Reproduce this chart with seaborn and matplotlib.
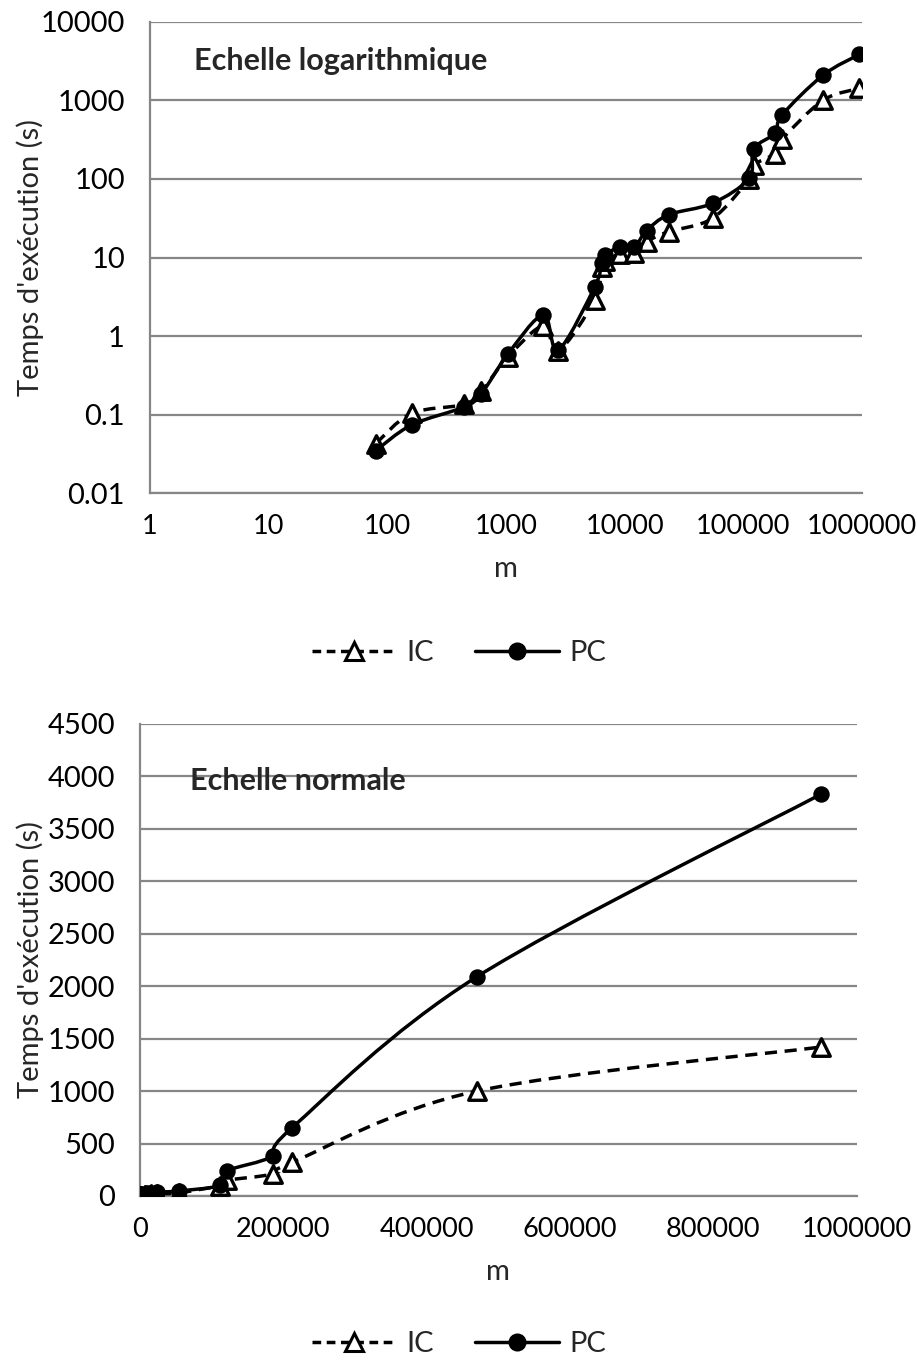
import numpy as np
import pandas as pd
import matplotlib
matplotlib.use("Agg")
import matplotlib.pyplot as plt
from matplotlib.path import Path
from matplotlib.patches import PathPatch
from matplotlib.lines import Line2D
from matplotlib.ticker import FixedLocator, FixedFormatter, NullLocator
import seaborn as sns

# ---------------- data ----------------
m_values = [80, 160, 440, 620, 1045, 2060, 2760, 5600, 6400, 6800, 9100, 12000,
            15300, 23500, 55000, 112000, 122000, 185000, 212000, 470000, 950000]
ic_times = [0.043, 0.104, 0.135, 0.2, 0.55, 1.35, 0.65, 2.9, 7.6, 9.0, 11.0, 11.3,
            15.9, 21.3, 31.5, 100, 150, 210, 320, 1000, 1420]
pc_times = [0.035, 0.074, 0.125, 0.185, 0.6, 1.85, 0.67, 4.25, 8.5, 10.8, 13.5, 13.5,
            22, 35, 49, 102, 240, 382, 650, 2090, 3830]

log_yticks = [0.01, 0.1, 1, 10, 100, 1000, 10000]
log_ytick_labels = ["0.01", "0.1", "1", "10", "100", "1000", "10000"]
log_xticks = [1, 10, 100, 1000, 10000, 100000, 1000000]
log_xtick_labels = ["1", "10", "100", "1000", "10000", "100000", "1000000"]
lin_yticks = [0, 500, 1000, 1500, 2000, 2500, 3000, 3500, 4000, 4500]
lin_ytick_labels = [str(v) for v in lin_yticks]
lin_xticks = [0, 200000, 400000, 600000, 800000, 1000000]
lin_xtick_labels = [str(v) for v in lin_xticks]

series_names = ["IC", "PC"]
title_log = "Echelle logarithmique"
title_lin = "Echelle normale"
y_label = "Temps d'exécution (s)"
x_label = "m"

df = pd.DataFrame({"m": m_values * 2,
                   "t": ic_times + pc_times,
                   "serie": ["IC"] * len(m_values) + ["PC"] * len(m_values)})

# ---------------- style ----------------
sns.set_theme(style="white")
plt.rcParams['font.family'] = ['Lato', 'DejaVu Sans']
FS = 21
FSX = 19.5
GRID = "#868686"

fig = plt.figure(figsize=(9.18, 13.64), dpi=100)
ax1 = fig.add_axes([150 / 918, 1 - 493.3 / 1364, 712 / 918, 471.6 / 1364])
ax2 = fig.add_axes([140 / 918, 1 - 1196 / 1364, 716.7 / 918, 472 / 1364])


def smooth_path(x, y, logx, logy):
    x = np.asarray(x, float)
    y = np.asarray(y, float)
    tx = np.log10(x) if logx else x
    ty = np.log10(y) if logy else y
    pts = np.column_stack([tx, ty])
    n = len(pts)
    verts = [pts[0]]
    codes = [Path.MOVETO]
    for i in range(n - 1):
        p0 = pts[max(i - 1, 0)]
        p1 = pts[i]
        p2 = pts[i + 1]
        p3 = pts[min(i + 2, n - 1)]
        c1 = p1 + (p2 - p0) / 6.0
        c2 = p2 - (p3 - p1) / 6.0
        verts += [c1, c2, p2]
        codes += [Path.CURVE4] * 3
    verts = np.array(verts)
    if logx:
        verts[:, 0] = 10 ** verts[:, 0]
    if logy:
        verts[:, 1] = 10 ** verts[:, 1]
    return Path(verts, codes)


def draw(ax, logscale, ylabel_x):
    if logscale:
        ax.set_xscale("log")
        ax.set_yscale("log")
    sub_ic = df[df.serie == "IC"]
    sub_pc = df[df.serie == "PC"]
    # IC line + markers
    ax.add_patch(PathPatch(smooth_path(sub_ic.m, sub_ic.t, logscale, logscale),
                           fill=False, edgecolor="black", lw=2.5,
                           linestyle=(0, (3.5, 2.2)), zorder=3))
    sns.scatterplot(data=sub_ic, x="m", y="t", marker="^", s=160, color="white",
                    edgecolor="black", linewidth=2.4, ax=ax, zorder=4, legend=False)
    # PC line + markers
    ax.add_patch(PathPatch(smooth_path(sub_pc.m, sub_pc.t, logscale, logscale),
                           fill=False, edgecolor="black", lw=2.5, zorder=5))
    sns.scatterplot(data=sub_pc, x="m", y="t", marker="o", s=140, color="black",
                    edgecolor="black", linewidth=0, ax=ax, zorder=6, legend=False)

    for side in ["top", "right"]:
        ax.spines[side].set_visible(False)
    for side in ["left", "bottom"]:
        ax.spines[side].set_color(GRID)
        ax.spines[side].set_linewidth(1.6)
    ax.yaxis.grid(True, color=GRID, lw=1.6)
    ax.xaxis.grid(False)
    ax.set_axisbelow(True)
    ax.tick_params(axis="both", which="major", direction="out", length=7,
                   width=1.4, color=GRID, labelcolor="black")
    ax.tick_params(axis="y", pad=11, labelsize=FS)
    ax.tick_params(axis="x", pad=8, labelsize=FSX)
    ax.set_xlabel(x_label, fontsize=FS, labelpad=12)
    ax.set_ylabel(y_label, fontsize=FS)
    ax.yaxis.set_label_coords(ylabel_x, 0.5)


draw(ax1, True, (44 - 150) / 712)
ax1.set_xlim(1, 1e6)
ax1.set_ylim(0.01, 10000)
ax1.xaxis.set_major_locator(FixedLocator(log_xticks))
ax1.xaxis.set_major_formatter(FixedFormatter(log_xtick_labels))
ax1.xaxis.set_minor_locator(NullLocator())
ax1.yaxis.set_major_locator(FixedLocator(log_yticks))
ax1.yaxis.set_major_formatter(FixedFormatter(log_ytick_labels))
ax1.yaxis.set_minor_locator(NullLocator())
ax1.text(0.062, 0.916, title_log, transform=ax1.transAxes, fontsize=FS + 1,
         fontweight="bold", va="center", ha="left")

draw(ax2, False, (44 - 140) / 716.7)
ax2.set_xlim(0, 1e6)
ax2.set_ylim(0, 4500)
ax2.xaxis.set_major_locator(FixedLocator(lin_xticks))
ax2.xaxis.set_major_formatter(FixedFormatter(lin_xtick_labels))
ax2.yaxis.set_major_locator(FixedLocator(lin_yticks))
ax2.yaxis.set_major_formatter(FixedFormatter(lin_ytick_labels))
ax2.text(0.07, 0.88, title_lin, transform=ax2.transAxes, fontsize=FS + 1,
         fontweight="bold", va="center", ha="left")

handles = [
    Line2D([], [], color="black", lw=2.5, linestyle=(0, (2.5, 1.6)), marker="^",
           markersize=13, markerfacecolor="white", markeredgecolor="black",
           markeredgewidth=2.2),
    Line2D([], [], color="black", lw=2.5, marker="o", markersize=12,
           markerfacecolor="black", markeredgecolor="black"),
]
for y in [1 - 653 / 1364, 1 - 1344 / 1364]:
    fig.legend(handles, series_names, loc="center", bbox_to_anchor=(0.5, y),
               ncol=2, frameon=False, fontsize=FS, handlelength=2.9,
               columnspacing=1.4, handletextpad=0.35)

fig.savefig("out.png", dpi=100, facecolor="white")
